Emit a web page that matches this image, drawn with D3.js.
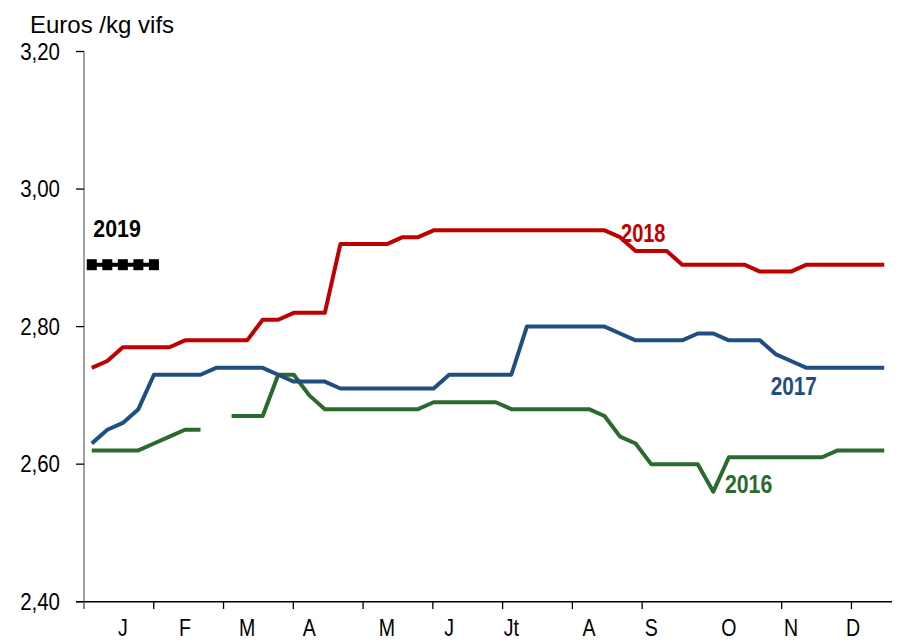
<!DOCTYPE html>
<html>
<head>
<meta charset="utf-8">
<script src="https://cdn.jsdelivr.net/npm/d3@7"></script>
<style>
  html, body { margin: 0; padding: 0; background: #fff; }
  svg { display: block; }
  text { font-family: "Liberation Sans", Arial, sans-serif; }
</style>
</head>
<body>
<svg id="chart" width="924" height="642"></svg>
<script>
// ---- Data (weekly prices, euros / kg vifs) ----
const weeks = d3.range(1, 53);

const values2018 = [2.74, 2.75, 2.77, 2.77, 2.77, 2.77, 2.78, 2.78, 2.78, 2.78, 2.78, 2.81, 2.81,
  2.82, 2.82, 2.82, 2.92, 2.92, 2.92, 2.92, 2.93, 2.93, 2.94, 2.94, 2.94, 2.94,
  2.94, 2.94, 2.94, 2.94, 2.94, 2.94, 2.94, 2.94, 2.93, 2.91, 2.91, 2.91, 2.89,
  2.89, 2.89, 2.89, 2.89, 2.88, 2.88, 2.88, 2.89, 2.89, 2.89, 2.89, 2.89, 2.89];

const values2017 = [2.63, 2.65, 2.66, 2.68, 2.73, 2.73, 2.73, 2.73, 2.74, 2.74, 2.74, 2.74, 2.73,
  2.72, 2.72, 2.72, 2.71, 2.71, 2.71, 2.71, 2.71, 2.71, 2.71, 2.73, 2.73, 2.73,
  2.73, 2.73, 2.80, 2.80, 2.80, 2.80, 2.80, 2.80, 2.79, 2.78, 2.78, 2.78, 2.78,
  2.79, 2.79, 2.78, 2.78, 2.78, 2.76, 2.75, 2.74, 2.74, 2.74, 2.74, 2.74, 2.74];

const values2016 = [2.62, 2.62, 2.62, 2.62, 2.63, 2.64, 2.65, 2.65, null, 2.67, 2.67, 2.67, 2.73,
  2.73, 2.70, 2.68, 2.68, 2.68, 2.68, 2.68, 2.68, 2.68, 2.69, 2.69, 2.69, 2.69,
  2.69, 2.68, 2.68, 2.68, 2.68, 2.68, 2.68, 2.67, 2.64, 2.63, 2.60, 2.60, 2.60,
  2.60, 2.56, 2.61, 2.61, 2.61, 2.61, 2.61, 2.61, 2.61, 2.62, 2.62, 2.62, 2.62];

const values2019 = [2.89, 2.89, 2.89, 2.89, 2.89];

const yTickValues = [2.40, 2.60, 2.80, 3.00, 3.20];
const monthLabels = ["J", "F", "M", "A", "M", "J", "Jt", "A", "S", "O", "N", "D"];
const monthLabelWeeks = [3, 7, 11, 15, 20, 24, 28, 33, 37, 42, 46, 50];
const monthTickWeeks = [0.5, 4.99, 9.48, 13.97, 18.46, 22.95, 27.44, 31.93, 36.42, 45.40, 49.89];

const seriesNames = ["2016", "2017", "2018", "2019"];
const seriesColors = ["#2a6b2d", "#1f4e80", "#c00000", "#000000"];
// label anchors in data units (week, value)
const labelWeeks = [41.75, 44.69, 35.06, 1.10];
const labelValues = [2.5587, 2.7009, 2.9236, 2.9304];

// ---- Layout ----
const svg = d3.select("#chart");
const x = d3.scaleLinear().domain([0.5, 52.5]).range([84, 892]);
const y = d3.scaleLinear().domain([2.40, 3.20]).range([601.7, 51.5]);

// Title
svg.append("text")
  .attr("x", 30).attr("y", 32.5)
  .attr("font-size", 24)
  .attr("fill", "#000")
  .text("Euros /kg vifs");

// Y axis
const yAxis = svg.append("g");
yAxis.append("line")
  .attr("x1", 84).attr("x2", 84)
  .attr("y1", y(3.20)).attr("y2", 609)
  .attr("stroke", "#808080").attr("stroke-width", 1.5);
yAxis.selectAll("line.tick").data(yTickValues).join("line")
  .attr("class", "tick")
  .attr("x1", 76).attr("x2", 84)
  .attr("y1", d => y(d)).attr("y2", d => y(d))
  .attr("stroke", "#000").attr("stroke-width", 1.3);
yAxis.selectAll("text").data(yTickValues).join("text")
  .attr("transform", d => `translate(60,${y(d) + 8.3}) scale(0.89,1)`)
  .attr("text-anchor", "end")
  .attr("font-size", 23)
  .attr("fill", "#000")
  .text(d => d3.format(".2f")(d).replace(".", ","));

// X axis
const xAxis = svg.append("g");
xAxis.append("line")
  .attr("x1", 76).attr("x2", x(52.5))
  .attr("y1", y(2.40)).attr("y2", y(2.40))
  .attr("stroke", "#000").attr("stroke-width", 1.6);
xAxis.selectAll("line.tick").data(monthTickWeeks).join("line")
  .attr("class", "tick")
  .attr("x1", d => x(d)).attr("x2", d => x(d))
  .attr("y1", y(2.40)).attr("y2", 609)
  .attr("stroke", d => d === 0.5 ? "#808080" : "#000")
  .attr("stroke-width", 1.3);
xAxis.selectAll("text").data(monthLabels).join("text")
  .attr("transform", (d, i) => `translate(${x(monthLabelWeeks[i])},636) scale(0.85,1)`)
  .attr("text-anchor", "middle")
  .attr("font-size", 23)
  .attr("fill", "#000")
  .text(d => d);

// Lines
const line = d3.line()
  .defined(d => d[1] != null)
  .x(d => x(d[0]))
  .y(d => y(d[1]));

const allSeries = [values2016, values2017, values2018, values2019];
allSeries.forEach((vals, i) => {
  const pts = vals.map((v, j) => [weeks[j], v]);
  svg.append("path")
    .datum(pts)
    .attr("fill", "none")
    .attr("stroke", seriesColors[i])
    .attr("stroke-width", 4)
    .attr("stroke-linejoin", "round")
    .attr("d", line);
});

// 2019 square markers
svg.selectAll("rect.m2019").data(values2019).join("rect")
  .attr("class", "m2019")
  .attr("x", (d, j) => x(weeks[j]) - 5)
  .attr("y", d => y(d) - 5.5)
  .attr("width", 10).attr("height", 11)
  .attr("fill", "#000");

// Series labels
const labelScale = [0.85, 0.80, 0.80, 0.89];
const labelSize = [25, 26, 25, 24];
svg.selectAll("text.series").data(seriesNames).join("text")
  .attr("class", "series")
  .attr("transform", (d, i) => `translate(${x(labelWeeks[i])},${y(labelValues[i])}) scale(${labelScale[i]},1)`)
  .attr("font-size", (d, i) => labelSize[i])
  .attr("font-weight", "bold")
  .attr("fill", (d, i) => seriesColors[i])
  .text(d => d);
</script>
</body>
</html>
